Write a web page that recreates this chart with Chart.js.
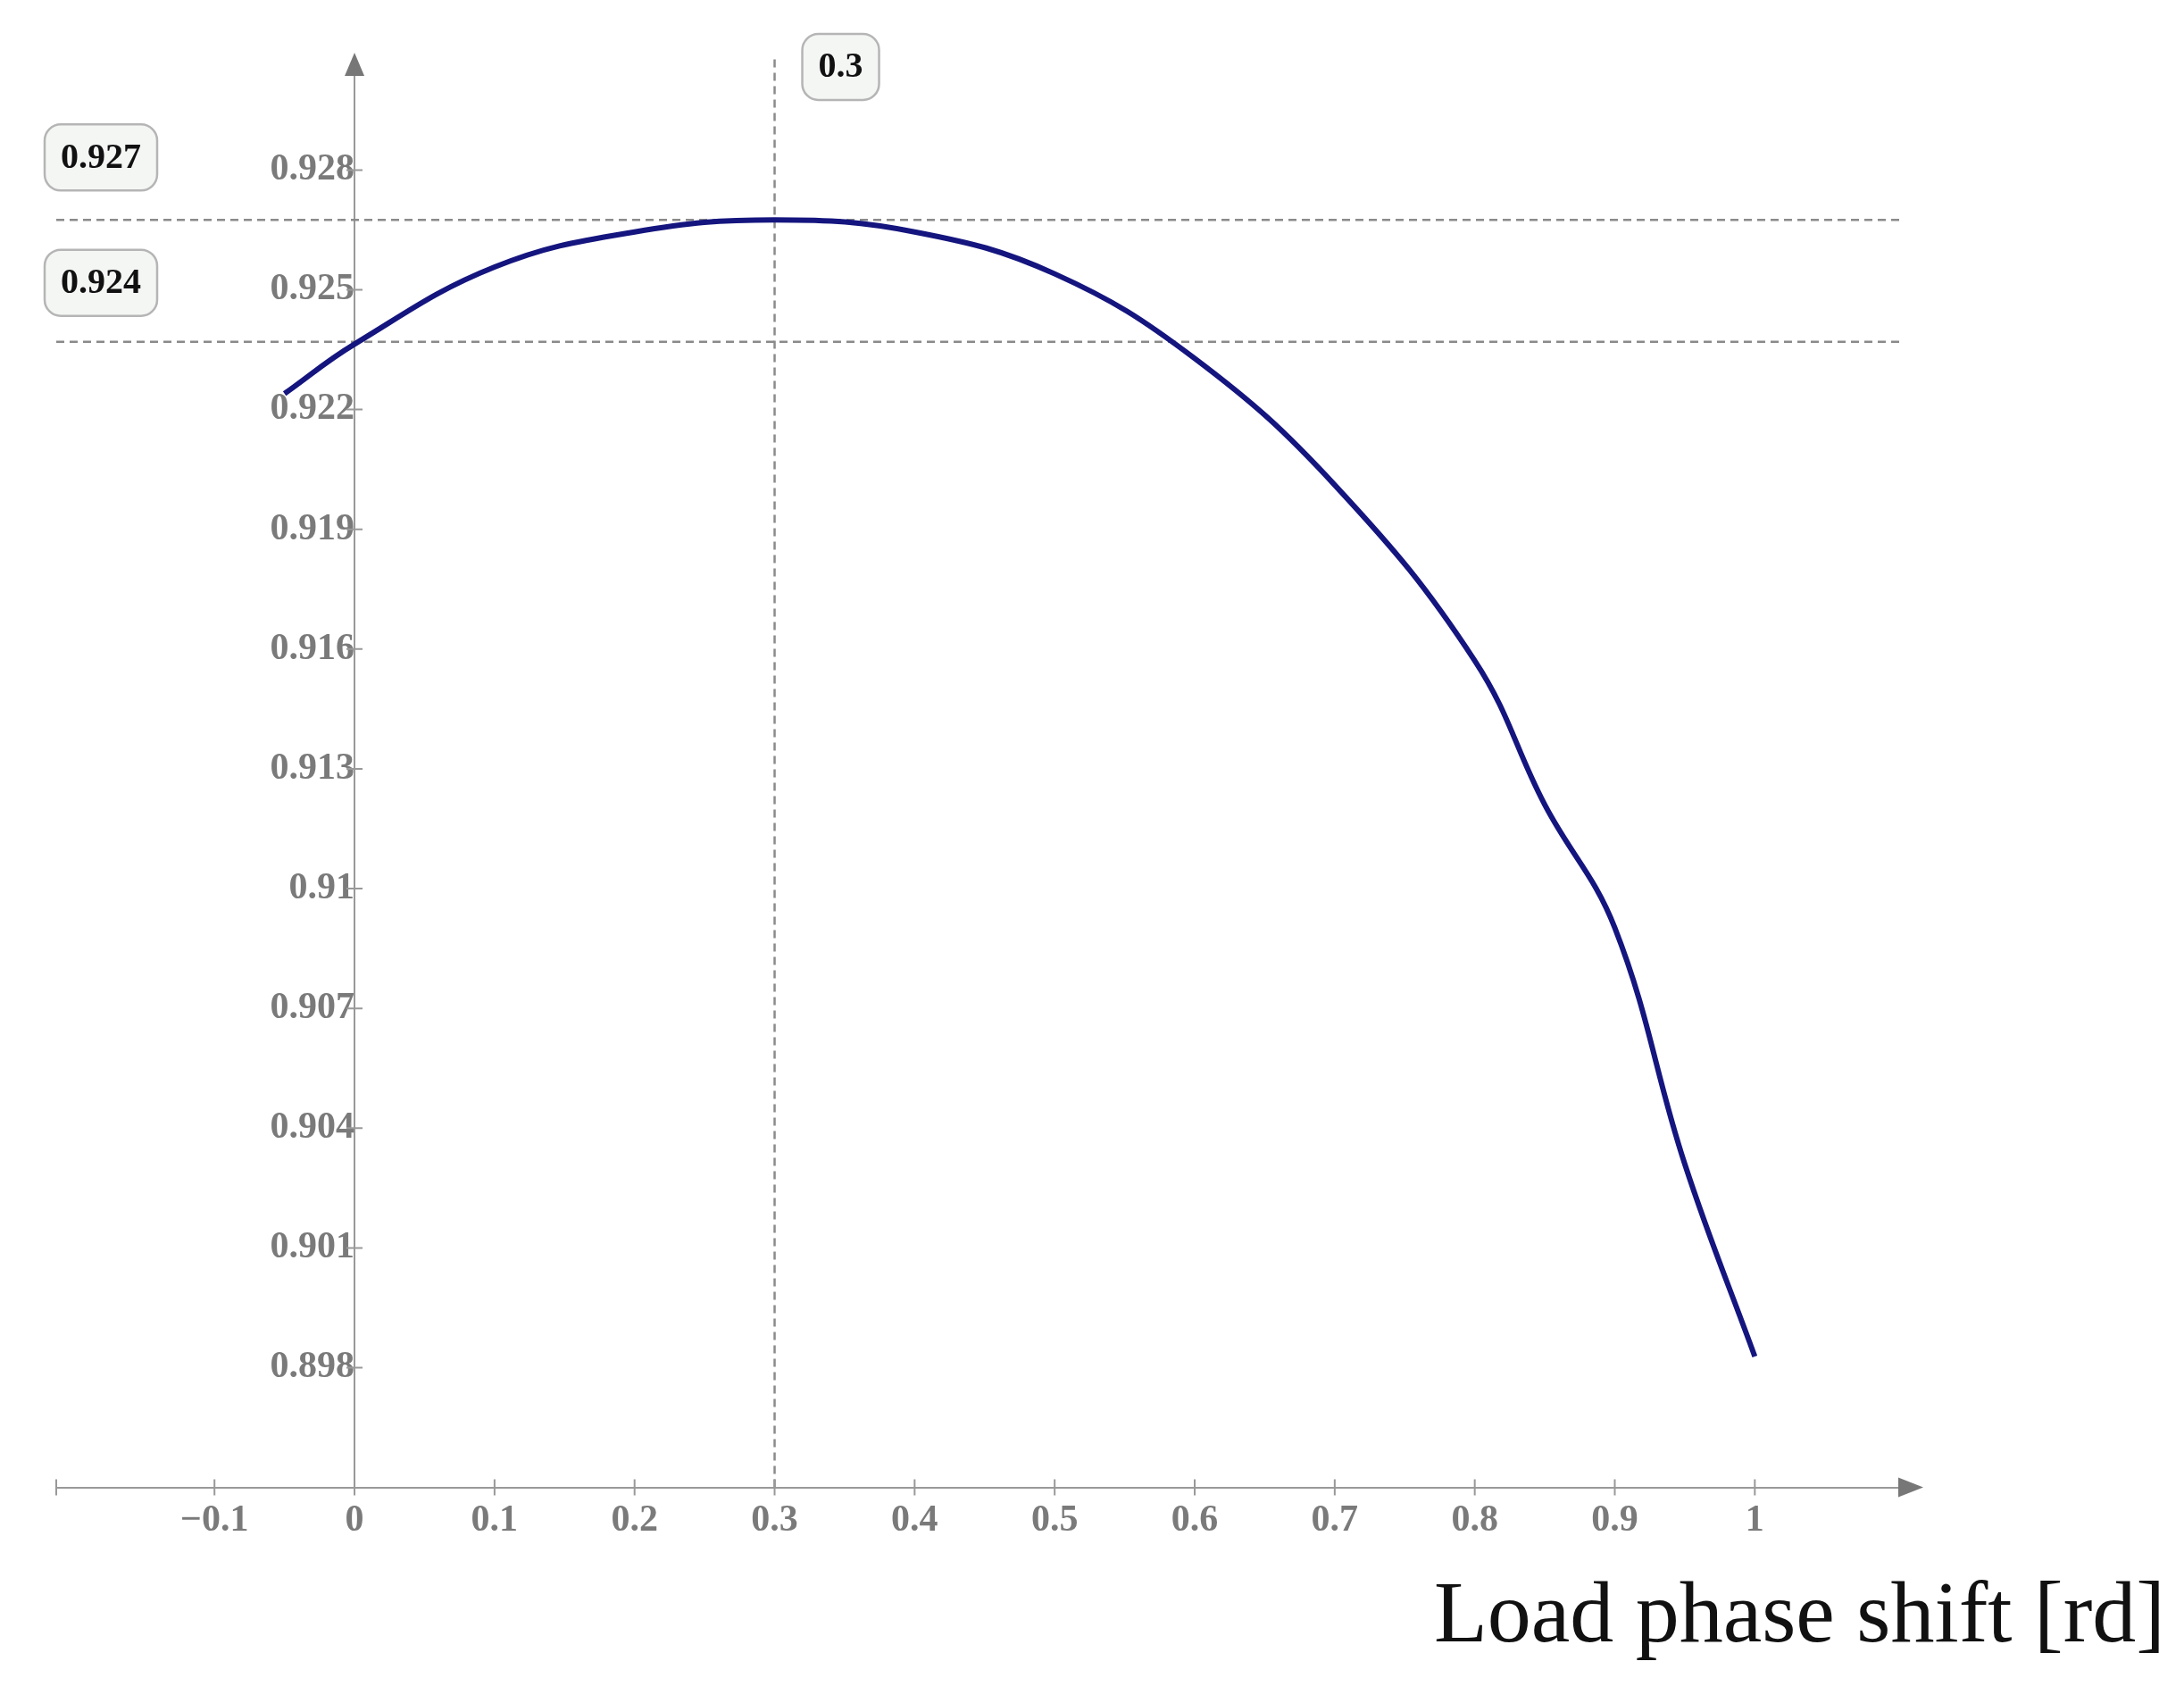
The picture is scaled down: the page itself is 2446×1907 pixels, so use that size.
<!DOCTYPE html>
<html>
<head>
<meta charset="utf-8">
<script src="https://cdn.jsdelivr.net/npm/chart.js"></script>
<style>
html, body { margin: 0; padding: 0; background: #fff; }
#wrap { width: 2446px; height: 1907px; }
</style>
</head>
<body>
<div id="wrap"><canvas id="c" width="2446" height="1907"></canvas></div>
<script>
// Data
const curveX = [-0.05, 0, 0.1, 0.2, 0.3, 0.4, 0.5, 0.6, 0.7, 0.8, 0.85, 0.9, 0.95, 1.0];
const curveY = [0.9224, 0.92364, 0.92557, 0.92645, 0.92675, 0.92645, 0.9254, 0.92328, 0.92011, 0.91571, 0.9121, 0.90902, 0.9031, 0.89828];
const xTicks = [-0.1, 0, 0.1, 0.2, 0.3, 0.4, 0.5, 0.6, 0.7, 0.8, 0.9, 1];
const yTicks = [0.898, 0.901, 0.904, 0.907, 0.91, 0.913, 0.916, 0.919, 0.922, 0.925, 0.928];
const markerY = [0.92675, 0.9237];
const markerYLabels = ['0.927', '0.924'];
const markerX = 0.3;
const markerXLabel = '0.3';
const xTitle = 'Load phase shift [rd]';

const X_MIN = -0.213, X_MAX = 1.105, Y_MIN = 0.895, Y_MAX = 0.93085;
const tickFont = { family: 'Liberation Serif', size: 42, weight: 'bold' };
const dashStyle = { borderColor: '#8a8a8a', borderWidth: 2.5, borderDash: [9, 6], pointRadius: 0, fill: false };

const datasets = [{
  data: curveX.map((x, i) => ({ x: x, y: curveY[i] })),
  borderColor: '#15157f', borderWidth: 6, pointRadius: 0, tension: 0.4, fill: false
}];
markerY.forEach(v => datasets.push(Object.assign({ data: [{ x: X_MIN, y: v }, { x: X_MAX, y: v }] }, dashStyle)));
datasets.push(Object.assign({ data: [{ x: markerX, y: Y_MIN }, { x: markerX, y: Y_MAX + 0.0005 }] }, dashStyle));

function roundBox(ctx, cx, cy, text) {
  ctx.font = 'bold 40px "Liberation Serif"';
  const w = ctx.measureText(text).width + 36, h = 74;
  const x = cx - w / 2, y = cy - h / 2, r = 18;
  ctx.beginPath();
  ctx.moveTo(x + r, y); ctx.arcTo(x + w, y, x + w, y + h, r); ctx.arcTo(x + w, y + h, x, y + h, r);
  ctx.arcTo(x, y + h, x, y, r); ctx.arcTo(x, y, x + w, y, r); ctx.closePath();
  ctx.fillStyle = '#f4f6f4'; ctx.fill();
  ctx.strokeStyle = '#b5b5b5'; ctx.lineWidth = 2.5; ctx.stroke();
  ctx.fillStyle = '#111'; ctx.textAlign = 'center'; ctx.textBaseline = 'middle';
  ctx.fillText(text, cx, cy + 1);
}

const decor = {
  id: 'decor',
  afterDraw(chart) {
    const ctx = chart.ctx, xs = chart.scales.x, ys = chart.scales.y;
    const x0 = xs.getPixelForValue(0), yb = ys.getPixelForValue(Y_MIN);
    const xr = xs.getPixelForValue(X_MAX), yt = ys.getPixelForValue(Y_MAX);
    ctx.save();
    ctx.fillStyle = '#777';
    ctx.beginPath(); ctx.moveTo(xr + 24, yb); ctx.lineTo(xr - 4, yb - 11); ctx.lineTo(xr - 4, yb + 11); ctx.closePath(); ctx.fill();
    ctx.beginPath(); ctx.moveTo(x0, yt - 4); ctx.lineTo(x0 - 11, yt + 22); ctx.lineTo(x0 + 11, yt + 22); ctx.closePath(); ctx.fill();
    ctx.strokeStyle = '#999'; ctx.lineWidth = 2;
    ctx.beginPath();
    ctx.moveTo(xs.getPixelForValue(X_MIN), yb - 9); ctx.lineTo(xs.getPixelForValue(X_MIN), yb + 9);
    yTicks.forEach(v => { const p = ys.getPixelForValue(v); ctx.moveTo(x0 - 9, p); ctx.lineTo(x0 + 9, p); });
    xTicks.forEach(v => { const p = xs.getPixelForValue(v); ctx.moveTo(p, yb - 9); ctx.lineTo(p, yb + 9); });
    ctx.stroke();
    markerY.forEach((v, i) => roundBox(ctx, 113, ys.getPixelForValue(v) - 70 + (i ? 4 : 0), markerYLabels[i]));
    roundBox(ctx, xs.getPixelForValue(markerX) + 74, 75, markerXLabel);
    ctx.fillStyle = '#111'; ctx.font = '98px "Liberation Serif"';
    ctx.textAlign = 'right'; ctx.textBaseline = 'alphabetic';
    ctx.fillText(xTitle, 2425, 1838);
    ctx.restore();
  }
};

new Chart(document.getElementById('c'), {
  type: 'line',
  data: { datasets: datasets },
  plugins: [decor],
  options: {
    responsive: false, animation: false,
    layout: { padding: { left: 63, right: 316, top: 63, bottom: 175 } },
    plugins: { legend: { display: false }, tooltip: { enabled: false } },
    scales: {
      x: {
        type: 'linear', min: X_MIN, max: X_MAX, position: 'bottom',
        afterBuildTicks: s => { s.ticks = xTicks.map(v => ({ value: v })); },
        ticks: { font: tickFont, color: '#7a7a7a', padding: 4, maxRotation: 0,
          callback: v => v < 0 ? '\u2212' + Math.abs(v) : String(v) },
        grid: { display: false },
        border: { display: true, color: '#999', width: 2 }
      },
      y: {
        type: 'linear', min: Y_MIN, max: Y_MAX, position: { x: 0 },
        afterBuildTicks: s => { s.ticks = yTicks.map(v => ({ value: v })); },
        ticks: { font: tickFont, color: '#7a7a7a', padding: 18, callback: v => String(v) },
        grid: { display: false },
        border: { display: true, color: '#999', width: 2 }
      }
    }
  }
});
</script>
</body>
</html>
